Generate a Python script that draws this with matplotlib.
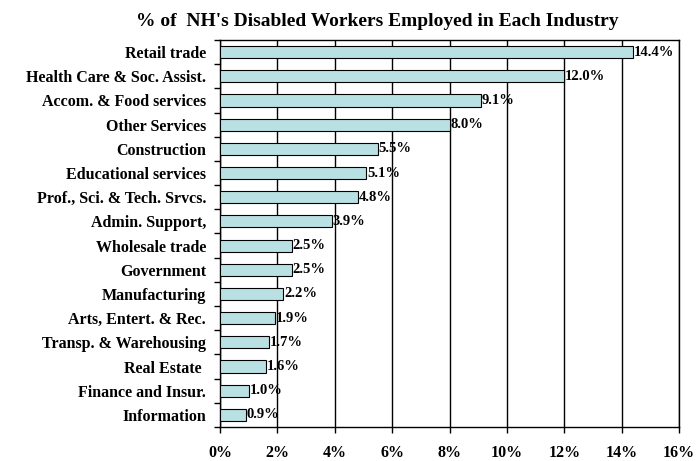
import numpy as np
import matplotlib
matplotlib.use("Agg")
import matplotlib.pyplot as plt
from matplotlib.ticker import FixedLocator

# datos (de arriba hacia abajo)
industrias = ["Retail trade", "Health Care & Soc. Assist.", "Accom. & Food services",
              "Other Services", "Construction", "Educational services",
              "Prof., Sci. & Tech. Srvcs.", "Admin. Support,", "Wholesale trade",
              "Government", "Manufacturing", "Arts, Entert. & Rec.",
              "Transp. & Warehousing", "Real Estate ", "Finance and Insur.", "Information"]
porcentajes = [14.4, 12.0, 9.1, 8.0, 5.5, 5.1, 4.8, 3.9, 2.5, 2.5, 2.2, 1.9, 1.7, 1.6, 1.0, 0.9]
xticks = [0, 2, 4, 6, 8, 10, 12, 14, 16]

plt.rcParams['font.family'] = ['Liberation Serif', 'DejaVu Serif']
plt.rcParams['font.weight'] = 'bold'

fig = plt.figure(figsize=(6.96, 4.61), dpi=100)
ax = fig.add_axes([220/696, 1 - 427/461, (679-220)/696, (427-40)/461])

n = len(industrias)
y = np.arange(n)[::-1]
ax.barh(y, porcentajes, height=0.5, color="#b9e1e4", edgecolor="black", linewidth=0.8, zorder=3)

for yi, v in zip(y, porcentajes):
    ax.text(v + 0.03, yi, f"{v:.1f}%", va="center", ha="left", fontsize=10.5,
            fontweight="bold", zorder=4)

ax.set_xlim(0, 16)
ax.set_ylim(-0.5, n - 0.5)
ax.set_xticks(xticks)
ax.set_xticklabels([f"{t}%" for t in xticks], fontsize=11.5, fontweight="bold")
ax.tick_params(axis="x", direction="out", length=4, pad=9, width=1)
ax.set_yticks(y)
ax.set_yticklabels(industrias, fontsize=11.5, fontweight="bold")
ax.tick_params(axis="y", which="major", length=0, pad=10)
ax.yaxis.set_minor_locator(FixedLocator(np.arange(n + 1) - 0.5))
ax.tick_params(axis="y", which="minor", direction="out", length=4, width=1)
ax.grid(axis="x", color="black", linewidth=1, zorder=1)
for s in ax.spines.values():
    s.set_linewidth(1)

fig.text(377/696, 1 - 21/461, "% of  NH's Disabled Workers Employed in Each Industry",
         ha="center", va="center", fontsize=14, fontweight="bold")

fig.savefig("out.png", dpi=100)
